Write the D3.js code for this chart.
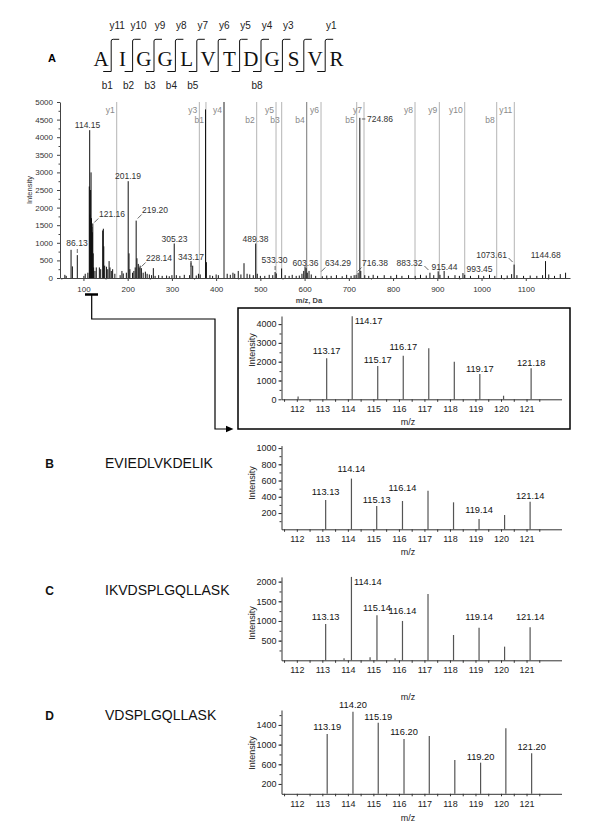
<!DOCTYPE html>
<html>
<head>
<meta charset="utf-8">
<script src="https://cdn.jsdelivr.net/npm/d3@7"></script>
<style>
body { margin: 0; background: #fff; }
text { font-family: "Liberation Sans", Arial, sans-serif; }
</style>
</head>
<body>
<svg id="fig" width="600" height="829"></svg>
<script>
// ---- data ----
const sequence = "AIGGLVTDGSVR".split("");
const yIons = [11, 10, 9, 8, 7, 6, 5, 4, 3, 1];
const bIons = [1, 2, 3, 4, 5, 8];

// annotated fragment lines in the MS/MS spectrum
const ionNames = ["y1", "y3", "b1", "y4", "b2", "y5", "b3", "b4", "y6", "b5", "y7", "y8", "y9", "y10", "b8", "y11"];
const ionMz = [175.2, 362, 377, 417.8, 491.7, 535.4, 548.2, 604.8, 637.1, 717.8, 734.3, 849.6, 904.6, 962, 1034.3, 1074.1];

// MS/MS peaks (m/z, intensity)
const mainMz = [58, 61, 72, 75, 86.13, 101, 104, 110,
  113.17, 114.15, 115.2, 116.2, 117.2, 118.2, 119.2, 120.2, 121.16, 122.1, 123, 126, 129, 136, 139,
  143.5, 145, 146, 148, 152, 155, 158, 160, 163, 166, 171, 183, 187, 190, 197,
  201.19, 203, 205, 211, 214, 217, 219.2, 221, 224, 226, 228.14, 231, 235, 240, 244, 249, 254, 258, 262,
  270, 278, 288, 294, 300, 305.23, 310, 318, 328, 340, 343.17, 347, 355, 360, 364, 376, 378, 386, 392,
  400, 405, 425, 432, 438, 442, 450, 456, 463, 470, 476, 484, 489.38, 493, 500, 510, 520, 528,
  533.3, 536, 548, 556, 565, 572, 581, 588, 594, 598, 601, 603.36, 606, 610, 615, 625, 640, 650, 660,
  672, 685, 695, 705, 712, 716.38, 721, 724.86, 727, 736, 745, 755, 765, 780, 795, 808, 820, 835, 850,
  862, 875, 883.32, 892, 902, 906, 915.44, 925, 940, 950, 958, 962, 975, 993.45, 1005, 1018, 1030,
  1045, 1058, 1068, 1073.61, 1080, 1095, 1110, 1125, 1138, 1144.68, 1152, 1165, 1178, 1190];
const mainInt = [90, 60, 800, 330, 650, 60, 120, 150,
  2600, 4200, 1800, 2500, 3000, 1700, 1450, 1300, 1550, 700, 300, 200, 300, 300, 250,
  1350, 1400, 900, 350, 320, 250, 480, 300, 200, 250, 120, 80, 200, 130, 150,
  2750, 700, 250, 150, 200, 300, 1630, 560, 400, 300, 350, 280, 150, 180, 120, 100, 80, 280, 60,
  80, 60, 70, 50, 80, 980, 80, 60, 90, 80, 480, 350, 70, 120, 100, 4790, 450, 80, 60,
  100, 80, 120, 90, 150, 120, 200, 100, 420, 120, 100, 80, 980, 120, 60, 60, 90, 80,
  170, 130, 270, 80, 60, 90, 60, 70, 120, 200, 330, 280, 150, 200, 100, 60, 50, 70, 60,
  80, 50, 90, 60, 80, 90, 150, 4550, 200, 80, 60, 90, 60, 80, 60, 90, 60, 80, 60,
  90, 70, 150, 80, 190, 90, 200, 60, 80, 60, 140, 90, 60, 80, 60, 90, 60,
  80, 70, 110, 380, 80, 60, 70, 60, 80, 480, 100, 60, 110, 150];
const mainXTicks = d3.range(100, 1101, 100);
const mainYTicks = d3.range(0, 5001, 500);

const mainLabels = ["114.15", "121.16", "201.19", "219.20", "86.13", "305.23", "228.14", "343.17", "489.38",
  "533.30", "603.36", "634.29", "716.38", "724.86", "883.32", "915.44", "993.45", "1073.61", "1144.68"];
// where each label sits (m/z of its centre, intensity of its baseline, leader kind)
const mainLabelAt = [[109.2, 4261, ""], [164.6, 1733, "r"], [200.7, 2813, ""], [261.8, 1847, "r"],
  [85.4, 909, "v"], [305.9, 1023, ""], [270.8, 483, "r"], [343.2, 511, "v"], [489, 1023, ""],
  [532, 426, "v"], [602, 341, ""], [675.5, 341, "r"], [759.2, 341, "r"], [770.5, 4432, "h"],
  [837.2, 341, "l"], [916.3, 227, ""], [995.5, 170, ""], [1022.6, 568, "l"], [1145.1, 568, ""]];

// reporter-ion region panels
const reporterTicks = d3.range(112, 122);

const insetMz = [112.05, 113.17, 114.17, 115.17, 116.17, 117.17, 118.17, 119.17, 120.1, 121.18];
const insetInt = [150, 2180, 4420, 1770, 2320, 2710, 2000, 1345, 190, 1645];
const insetLabelled = ["113.17", "114.17", "115.17", "116.17", "119.17", "121.18"];

const bMz = [113.13, 114.14, 115.13, 116.14, 117.14, 118.14, 119.14, 120.14, 121.14];
const bInt = [360, 624, 287, 348, 475, 332, 127, 176, 340];
const bLabelled = ["113.13", "114.14", "115.13", "116.14", "119.14", "121.14"];

const cMz = [113.13, 113.85, 114.14, 114.87, 115.14, 115.85, 116.14, 117.14, 118.14, 119.14, 120.14, 121.14];
const cInt = [923, 50, 2120, 76, 1143, 50, 1000, 1685, 643, 830, 347, 840];
const cLabelled = ["113.13", "114.14", "115.14", "116.14", "119.14", "121.14"];

const dMz = [113.19, 114.20, 115.19, 116.20, 117.19, 118.19, 119.20, 120.19, 121.20];
const dInt = [1216, 1670, 1446, 1115, 1176, 687, 633, 1332, 823];
const dLabelled = ["113.19", "114.20", "115.19", "116.20", "119.20", "121.20"];

const svg = d3.select("#fig");

// ---- A: sequence with fragment marks ----
svg.append("text").attr("x", 52).attr("y", 62).attr("text-anchor", "middle")
  .attr("font-size", "11px").attr("font-weight", "bold").text("A");

const resX = i => 101 + i * 21.4;
svg.selectAll(".res").data(sequence).join("text")
  .attr("x", (d, i) => resX(i)).attr("y", 65.5).attr("text-anchor", "middle")
  .style("font-family", "'Liberation Serif', 'Times New Roman', serif").attr("font-size", "21px")
  .attr("fill", "#111").text(d => d);

const seps = d3.range(sequence.length - 1);
const sepX = i => resX(i + 0.5) - 0.5;
svg.selectAll(".sep").data(seps).join("path")
  .attr("d", i => `M${sepX(i) - 8},71.5 H${sepX(i)} V41 Q${sepX(i)},39.3 ${sepX(i) + 2},39.3 H${sepX(i) + 8}`)
  .attr("fill", "none").attr("stroke", "#111").attr("stroke-width", 1);

svg.selectAll(".ylab").data(yIons).join("text")
  .attr("x", n => sepX(sequence.length - 1 - n) + 6).attr("y", 28.5).attr("text-anchor", "middle")
  .attr("font-size", "10px").attr("fill", "#222").text(n => "y" + n);
svg.selectAll(".blab").data(bIons).join("text")
  .attr("x", n => sepX(n - 1) - 4).attr("y", 89).attr("text-anchor", "middle")
  .attr("font-size", "10px").attr("fill", "#222").text(n => "b" + n);

// ---- A: MS/MS spectrum ----
const x = d3.scaleLinear().domain([47, 1200]).range([60, 570]);
const y = d3.scaleLinear().domain([0, 5000]).range([278, 102]);

svg.selectAll(".ion").data(ionNames).join("line")
  .attr("x1", (d, i) => x(ionMz[i])).attr("x2", (d, i) => x(ionMz[i]))
  .attr("y1", y(5000)).attr("y2", y(0))
  .attr("stroke", d => d === "y4" ? "#222" : d === "b4" ? "#777" : "#b4b4b4").attr("stroke-width", 1);
svg.selectAll(".ionlab").data(ionNames).join("text")
  .attr("x", (d, i) => x(ionMz[i]) - 2).attr("y", d => d[0] === "y" ? 113 : 123)
  .attr("text-anchor", "end").attr("font-size", "8.5px").attr("fill", "#888").text(d => d);

svg.selectAll(".pk").data(mainMz).join("line")
  .attr("x1", d => x(d)).attr("x2", d => x(d))
  .attr("y1", y(0)).attr("y2", (d, i) => y(mainInt[i]))
  .attr("stroke", "#111").attr("stroke-width", 1);

const intFmt = d3.format("d");
const mainYAxis = svg.append("g").attr("transform", "translate(60,0)")
  .call(d3.axisLeft(y).tickValues(mainYTicks).tickFormat(intFmt).tickSize(3).tickSizeOuter(0).tickPadding(4));
svg.append("g").attr("transform", "translate(60,0)")
  .call(d3.axisLeft(y).tickValues(d3.range(250, 5000, 500)).tickSize(1.5).tickFormat(""))
  .call(g => g.select(".domain").remove());
const mainXAxis = svg.append("g").attr("transform", "translate(0,278)")
  .call(d3.axisBottom(x).tickValues(mainXTicks).tickFormat(intFmt).tickSize(3).tickSizeOuter(0).tickPadding(5));
svg.append("g").attr("transform", "translate(0,278)")
  .call(d3.axisBottom(x).tickValues(d3.range(50, 1200, 100)).tickSize(1.5).tickFormat(""))
  .call(g => g.select(".domain").remove());
svg.selectAll(".domain").attr("stroke", "#444");
svg.selectAll(".tick line").attr("stroke", "#444");
[mainYAxis, mainXAxis].forEach(a => a.selectAll("text").attr("font-size", "8px").attr("fill", "#333")
  .style("font-family", "'Liberation Sans', Arial, sans-serif"));

svg.append("text").attr("transform", "translate(32,190) rotate(-90)").attr("text-anchor", "middle")
  .attr("font-size", "7.5px").attr("fill", "#333").text("Intensity");
svg.append("text").attr("x", 309).attr("y", 303).attr("text-anchor", "middle")
  .attr("font-size", "7.5px").attr("font-weight", "bold").attr("fill", "#444").text("m/z, Da");

svg.selectAll(".mlab").data(mainLabels).join("text")
  .attr("x", (d, i) => x(mainLabelAt[i][0])).attr("y", (d, i) => y(mainLabelAt[i][1]))
  .attr("text-anchor", "middle").attr("font-size", "8.5px").attr("fill", "#333").text(d => d);

const leader = (px, by, k) => ({
  r: [px + 1.5, by + 5.5, px + 5.5, by + 1.5],
  l: [px - 5.5, by, px - 1.5, by + 4],
  v: [px, by + 3, px, by + 7],
  h: [px + 2, by - 3, px + 5.5, by - 3]
})[k];
mainLabels.forEach((d, i) => {
  const k = mainLabelAt[i][2];
  if (!k) return;
  const c = leader(x(+d), y(mainLabelAt[i][1]), k);
  svg.append("line").attr("x1", c[0]).attr("y1", c[1]).attr("x2", c[2]).attr("y2", c[3])
    .attr("stroke", "#444").attr("stroke-width", 0.8);
});

// marker of the zoomed region and the connector arrow
svg.append("line").attr("x1", 85).attr("x2", 98).attr("y1", 294.5).attr("y2", 294.5)
  .attr("stroke", "#000").attr("stroke-width", 2.5);
svg.append("path").attr("d", "M91.7,294.5 V319 H215 V429 H227").attr("fill", "none")
  .attr("stroke", "#000").attr("stroke-width", 1.2);
svg.append("path").attr("d", "M226,425.8 L233.5,429 L226,432.2 Z").attr("fill", "#000");

svg.append("rect").attr("x", 238).attr("y", 308).attr("width", 332).attr("height", 121)
  .attr("fill", "none").attr("stroke", "#000").attr("stroke-width", 1.5);

// ---- reporter ion panels ----
const mzX = d3.scaleLinear().domain([111.4, 122.37]).range([281.5, 561.5]);

const panels = [
  { mz: insetMz, inten: insetInt, labelled: insetLabelled, yDomain: [0, 4430], yRange: [399.3, 316],
    ticks: d3.range(0, 4001, 1000), minor: 500, gaps: [4, "r", 2.7, 5.7, 2.4, 2.7], intY: 350, mzDy: 25.5 },
  { mz: bMz, inten: bInt, labelled: bLabelled, yDomain: [0, 1030], yRange: [529.3, 445.6],
    ticks: d3.range(200, 1001, 200), minor: 100, gaps: [5, 6.7, 2.7, 10, 6.4, 2.7], intY: 483, mzDy: 26,
    letter: "B", peptide: "EVIEDLVKDELIK", textY: 468 },
  { mz: cMz, inten: cInt, labelled: cLabelled, yDomain: [0, 2120], yRange: [660.3, 576.9],
    ticks: d3.range(500, 2001, 500), minor: 250, gaps: [4, "r", 4.4, 7.4, 7.7, 7.3], intY: 623, mzDy: 40,
    letter: "C", peptide: "IKVDSPLGQLLASK", textY: 595 },
  { mz: dMz, inten: dInt, labelled: dLabelled, yDomain: [0, 1704], yRange: [793.8, 710],
    ticks: [200, 600, 1000, 1400], minor: 200, gaps: [4, 3.4, 2.7, 4, 2.7, 3.3], intY: 753, mzDy: 27,
    letter: "D", peptide: "VDSPLGQLLASK", textY: 720 }
];

panels.forEach(p => {
  const py = d3.scaleLinear().domain(p.yDomain).range(p.yRange);
  const base = p.yRange[0];
  const g = svg.append("g");

  if (p.letter) {
    g.append("text").attr("x", 49.5).attr("y", p.textY - 0.5).attr("text-anchor", "middle")
      .attr("font-size", "12px").attr("font-weight", "bold").attr("fill", "#111").text(p.letter);
    g.append("text").attr("x", 105).attr("y", p.textY).attr("font-size", "14px")
      .attr("fill", "#111").text(p.peptide);
  }

  g.selectAll(".bar").data(p.mz).join("line")
    .attr("x1", d => mzX(d)).attr("x2", d => mzX(d))
    .attr("y1", base).attr("y2", (d, i) => py(p.inten[i]))
    .attr("stroke", "#555").attr("stroke-width", 1.2);

  const ya = g.append("g").attr("transform", `translate(${mzX.range()[0]},0)`)
    .call(d3.axisLeft(py).tickValues(p.ticks).tickFormat(intFmt).tickSize(3).tickSizeOuter(0).tickPadding(2));
  g.append("g").attr("transform", `translate(${mzX.range()[0]},0)`)
    .call(d3.axisLeft(py).tickValues(d3.range(p.minor, p.yDomain[1], p.minor)).tickSize(2).tickFormat(""))
    .call(a => a.select(".domain").remove());
  const xa = g.append("g").attr("transform", `translate(0,${base})`)
    .call(d3.axisBottom(mzX).tickValues(reporterTicks).tickFormat(intFmt)
      .tickSize(2.5).tickSizeOuter(0).tickPadding(4));
  g.append("g").attr("transform", `translate(0,${base})`)
    .call(d3.axisBottom(mzX).tickValues(d3.range(111.5, 122.1, 1)).tickSize(2.5).tickFormat(""))
    .call(a => a.select(".domain").remove());
  g.selectAll(".domain, .tick line").attr("stroke", "#333");
  [ya, xa].forEach(a => a.selectAll("text").attr("font-size", "9px").attr("fill", "#222")
    .style("font-family", "'Liberation Sans', Arial, sans-serif"));

  g.append("text").attr("transform", `translate(252,${p.intY}) rotate(-90)`).attr("text-anchor", "middle")
    .attr("dy", "0.35em").attr("font-size", "9px").attr("fill", "#222").text("Intensity");
  g.append("text").attr("x", 408).attr("y", base + p.mzDy).attr("text-anchor", "middle")
    .attr("font-size", "9px").attr("fill", "#222").text("m/z");

  p.labelled.forEach((lab, j) => {
    const i = p.mz.findIndex(m => m === +lab);
    const px = mzX(p.mz[i]), top = py(p.inten[i]);
    const gap = p.gaps[j];
    g.append("text")
      .attr("x", gap === "r" ? px + 2.5 : px).attr("y", gap === "r" ? top + 8 : top - gap)
      .attr("text-anchor", gap === "r" ? "start" : "middle")
      .attr("font-size", "9.3px").attr("fill", "#111").text(lab);
  });
});
</script>
</body>
</html>
